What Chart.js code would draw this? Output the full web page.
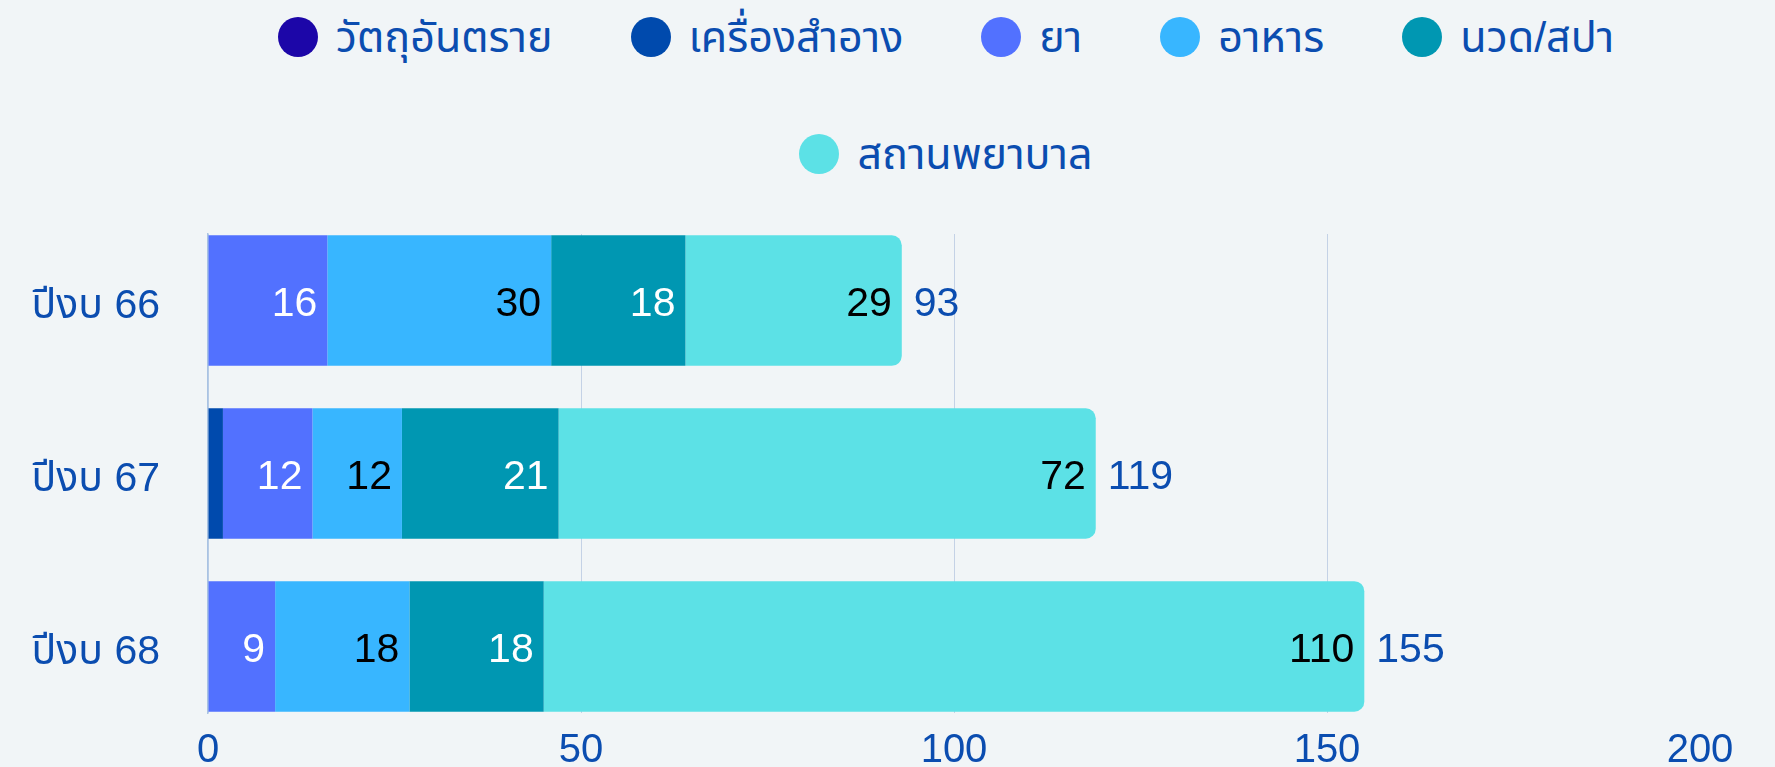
<!DOCTYPE html>
<html lang="th">
<head>
<meta charset="utf-8">
<title>จำนวนเรื่องร้องเรียน ปีงบ 66-68</title>
<script src="https://cdn.jsdelivr.net/npm/chart.js@4.4.1/dist/chart.umd.min.js"></script>
<style>
  html, body { margin: 0; padding: 0; background: #f1f5f7; }
  body {
    width: 1775px; height: 767px; overflow: hidden; position: relative;
    font-family: "Liberation Sans", "Noto Sans Thai", "Noto Sans", sans-serif;
  }
  #chart { position: absolute; left: 0; top: 0; }
  #legend {
    position: absolute; left: 200px; top: 3px; width: 1492px;
    display: flex; flex-wrap: wrap; justify-content: center;
    column-gap: 78px; row-gap: 47px;
  }
  #legend .item { display: flex; align-items: center; height: 70px; }
  #legend .dot { width: 40px; height: 40px; border-radius: 50%; margin-right: 18px; margin-top: -3px; }
  #legend .name { font-size: 43px; color: #0b4db0; white-space: nowrap; }
</style>
</head>
<body>
<div id="legend"></div>
<canvas id="chart" width="1775" height="767"></canvas>
<script>
'use strict';

// categories (y axis) and x ticks
const categories = ['ปีงบ 66', 'ปีงบ 67', 'ปีงบ 68'];
const xTicks = [0, 50, 100, 150, 200];

// series, one value per fiscal year
const seriesNames = ['วัตถุอันตราย', 'เครื่องสำอาง', 'ยา', 'อาหาร', 'นวด/สปา', 'สถานพยาบาล'];
const hazardous = [0, 0, 0];
const cosmetics = [0, 2, 0];
const drugs = [16, 12, 9];
const food = [30, 12, 18];
const spa = [18, 21, 18];
const clinics = [29, 72, 110];

const seriesValues = [hazardous, cosmetics, drugs, food, spa, clinics];
const seriesColors = ['#1c06a8', '#004aad', '#5271ff', '#38b6ff', '#0097b2', '#5ce1e6'];
const labelColors = ['#ffffff', '#ffffff', '#ffffff', '#000000', '#ffffff', '#000000'];

const blue = '#0b4db0';
const font = '"Liberation Sans", "Noto Sans Thai", "Noto Sans", sans-serif';

const totals = categories.map((_, i) => seriesValues.reduce((s, arr) => s + arr[i], 0));

// html legend
const legendEl = document.getElementById('legend');
seriesNames.forEach((name, i) => {
  const item = document.createElement('div');
  item.className = 'item';
  const dot = document.createElement('span');
  dot.className = 'dot';
  dot.style.background = seriesColors[i];
  const txt = document.createElement('span');
  txt.className = 'name';
  txt.textContent = name;
  item.appendChild(dot);
  item.appendChild(txt);
  legendEl.appendChild(item);
});

// value labels inside segments + totals after the bar
const barLabels = {
  id: 'barLabels',
  afterDatasetsDraw(chart) {
    const ctx = chart.ctx;
    const dy = 4;
    ctx.save();
    ctx.font = '41px ' + font;
    ctx.textBaseline = 'middle';
    chart.data.datasets.forEach((ds, di) => {
      const meta = chart.getDatasetMeta(di);
      meta.data.forEach((bar, i) => {
        const v = ds.data[i];
        if (!v) return;
        const txt = String(v);
        const w = ctx.measureText(txt).width;
        if (Math.abs(bar.x - bar.base) < w + 20) return;
        ctx.fillStyle = labelColors[di];
        ctx.textAlign = 'right';
        ctx.fillText(txt, bar.x - 10, bar.y + dy);
      });
    });
    const xs = chart.scales.x;
    const ys = chart.scales.y;
    ctx.fillStyle = blue;
    ctx.textAlign = 'left';
    totals.forEach((t, i) => {
      ctx.fillText(String(t), xs.getPixelForValue(t) + 12, ys.getPixelForValue(i) + dy);
    });
    ctx.restore();
  }
};

new Chart(document.getElementById('chart'), {
  type: 'bar',
  data: {
    labels: categories.map((_, i) => i),
    datasets: seriesNames.map((name, i) => ({
      label: name,
      data: seriesValues[i],
      backgroundColor: seriesColors[i],
      borderWidth: 0,
      borderRadius: i === seriesNames.length - 1 ? 10 : 0,
      borderSkipped: 'start',
      categoryPercentage: 1,
      barPercentage: 0.755
    }))
  },
  options: {
    indexAxis: 'y',
    responsive: false,
    animation: false,
    layout: { padding: { top: 234, right: 75, bottom: 0, left: 0 } },
    plugins: {
      legend: { display: false },
      tooltip: { enabled: false }
    },
    scales: {
      x: {
        stacked: true,
        min: 0,
        max: 200,
        afterBuildTicks: s => { s.ticks = xTicks.map(v => ({ value: v })); },
        afterFit: s => { s.height = 54; },
        ticks: { color: blue, font: { family: font, size: 40 }, padding: 14 },
        grid: {
          drawTicks: false,
          color: c => (c.tick && c.tick.value === 200) ? 'rgba(0,0,0,0)' : '#c4d2e6',
          lineWidth: 1
        },
        border: { display: false }
      },
      y: {
        type: 'linear',
        stacked: true,
        reverse: true,
        offset: false,
        min: -0.385,
        max: 2.385,
        afterBuildTicks: s => { s.ticks = categories.map((_, i) => ({ value: i })); },
        afterFit: s => { s.width = 208; s.paddingTop = 0; s.paddingBottom = 0; },
        ticks: {
          color: blue,
          font: { family: font, size: 41 },
          padding: 48,
          labelOffset: 6,
          callback: v => categories[v]
        },
        grid: { display: false, drawTicks: false, offset: false },
        border: { display: true, color: '#a9c3e3', width: 1.5 }
      }
    }
  },
  plugins: [barLabels]
});
</script>
</body>
</html>
